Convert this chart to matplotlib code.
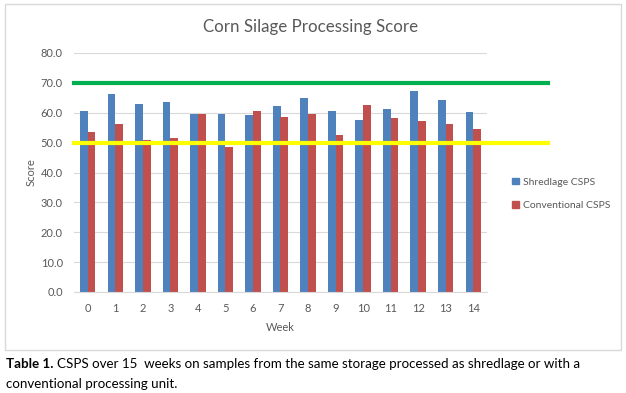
import numpy as np
import matplotlib.pyplot as plt
from matplotlib.patches import Patch, Rectangle

weeks = list(range(15))
shredlage = [60.6, 66.3, 63.0, 63.6, 59.6, 59.6, 59.3, 62.3, 65.0, 60.6, 57.6, 61.3, 67.3, 64.3, 60.3]
conventional = [53.6, 56.3, 50.9, 51.6, 59.6, 48.5, 60.6, 58.6, 59.6, 52.6, 62.6, 58.3, 57.3, 56.3, 54.6]
upper_target = 70.0
lower_target = 50.0
y_ticks = np.arange(0, 81, 10)

plt.rcParams["font.family"] = ["Lato", "DejaVu Sans"]
grey_text = "#595959"
blue = "#4F81BD"
red = "#C0504D"

fig = plt.figure(figsize=(6.26, 3.93), dpi=100)
ax = fig.add_axes([74 / 626, 1 - 292 / 393, (487 - 74) / 626, (292 - 53) / 393])

x = np.arange(len(weeks))
w = 0.28
ax.bar(x - w / 2, shredlage, width=w, color=blue, label="Shredlage CSPS", zorder=2)
ax.bar(x + w / 2, conventional, width=w, color=red, label="Conventional CSPS", zorder=2)

# target lines run past the plot area, as in the original
ext = (548 - 74) / (487 - 74)
ax.axhline(upper_target, xmin=0, xmax=ext, color="#00B050", lw=3.0, clip_on=False, zorder=3)
ax.axhline(lower_target, xmin=0, xmax=ext, color="#FFFF00", lw=3.0, clip_on=False, zorder=3)

ax.set_xlim(-0.5, len(weeks) - 0.5)
ax.set_ylim(0, 80)
ax.set_yticks(y_ticks)
ax.set_yticklabels([f"{v:.1f}" for v in y_ticks])
ax.set_xticks(x)
ax.set_xticklabels([str(v) for v in weeks])
ax.grid(axis="y", color="#D9D9D9", lw=0.8, zorder=0)
ax.set_axisbelow(True)
for s in ["top", "right", "left"]:
    ax.spines[s].set_visible(False)
ax.spines["bottom"].set_color("#D9D9D9")
ax.tick_params(length=0, labelsize=8, colors=grey_text, pad=8)

ax.set_xlabel("Week", fontsize=8, color=grey_text, labelpad=6)
ax.set_ylabel("Score", fontsize=8, color=grey_text, labelpad=3)

fig.text(311 / 626, 1 - 27 / 393, "Corn Silage Processing Score", ha="center", va="center",
         fontsize=12.2, color=grey_text)

handles = [Patch(color=blue), Patch(color=red)]
fig.legend(handles, ["Shredlage CSPS", "Conventional CSPS"], loc="center left",
           bbox_to_anchor=(503 / 626, 1 - 194 / 393), frameon=False, fontsize=7.5,
           handlelength=0.6, handleheight=0.6, handletextpad=0.4, labelspacing=1.4,
           labelcolor=grey_text)

# chart border
fig.patches.append(Rectangle((5 / 626, 1 - 350 / 393), (621 - 5) / 626, (350 - 4) / 393,
                             transform=fig.transFigure, fill=False, ec="#D9D9D9", lw=1))

# caption
fig.canvas.draw()
r = fig.canvas.get_renderer()
t1 = fig.text(6 / 626, 1 - 364 / 393, "Table 1.", fontsize=9.6, fontweight="bold", va="center")
bb = t1.get_window_extent(r)
fig.text((bb.x1 + 4) / 626, 1 - 364 / 393,
         "CSPS over 15  weeks on samples from the same storage processed as shredlage or with a",
         fontsize=9.6, va="center")
fig.text(6 / 626, 1 - 384 / 393, "conventional processing unit.", fontsize=9.6, va="center")

fig.savefig("out.png", dpi=100)
